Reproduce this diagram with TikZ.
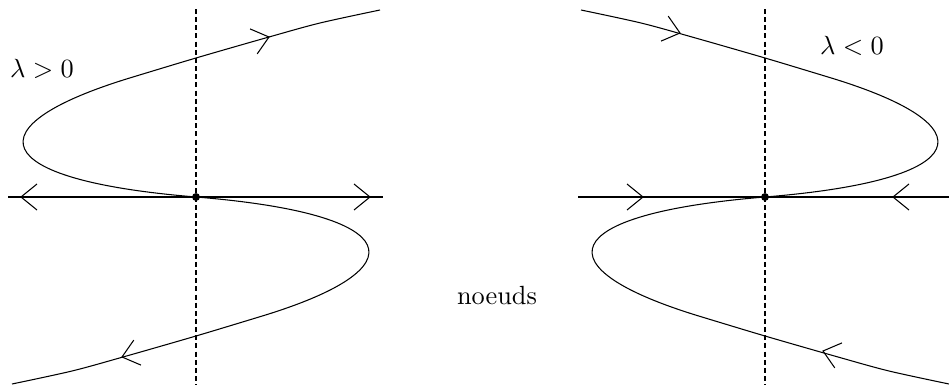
\documentclass[tikz,border=0pt]{standalone}
\begin{document}
\begin{tikzpicture}[x=0.38pt,y=-0.38pt,
  chev/.pic={\draw (-16,13) -- (0,0) -- (-16,-13);},
  guide/.style={dash pattern=on 1.9pt off 1.2pt, line width=0.4pt},
  fixpt/.style={circle, fill=black, inner sep=0pt, minimum size=3pt},
  lbl/.style={inner sep=0pt},
  scurve/.pic={\draw plot[smooth,tension=0.5] coordinates {
      (184,-187) (124,-174) (73,-160) (0,-139) (-63,-120)}
    .. controls (-226,-71) and (-210,-17) .. (0,0)
    .. controls (210,17) and (226,71) .. (63,120)
    -- plot[smooth,tension=0.5] coordinates {
      (63,120) (0,139) (-73,160) (-124,174) (-184,187)};}]
\useasboundingbox (0,0) rectangle (949,389);
% ---------- left panel (lambda > 0)
\node[fixpt] (o1) at (196,197) {};
\coordinate (t1) at (196,9);
\coordinate (b1) at (196,385);
\coordinate (w1) at (8,197);
\coordinate (e1) at (383,197);
\draw[guide] (t1) -- (b1);
\draw (w1) -- (e1);
\pic at (o1) {scurve};
\pic[rotate=16] at (269,37) {chev};
\pic[rotate=180] at (21,197) {chev};
\pic at (370,197) {chev};
\pic[rotate=196] at (122,357) {chev};
\node[lbl] (l1) at (42,69) {$\lambda>0$};
% ---------- right panel (lambda < 0)
\node[fixpt] (o2) at (765,197) {};
\coordinate (t2) at (765,9);
\coordinate (b2) at (765,385);
\coordinate (w2) at (578,197);
\coordinate (e2) at (949,197);
\draw[guide] (t2) -- (b2);
\draw (w2) -- (e2);
\pic[xscale=-1] at (o2) {scurve};
\pic[rotate=-16] at (680,33) {chev};
\pic at (643,197) {chev};
\pic[rotate=180] at (893,197) {chev};
\pic[rotate=164] at (823,351) {chev};
\node[lbl] (l2) at (852,46) {$\lambda<0$};
% ---------- caption
\node[lbl] (cap) at (497,296) {noeuds};
\end{tikzpicture}
\end{document}
